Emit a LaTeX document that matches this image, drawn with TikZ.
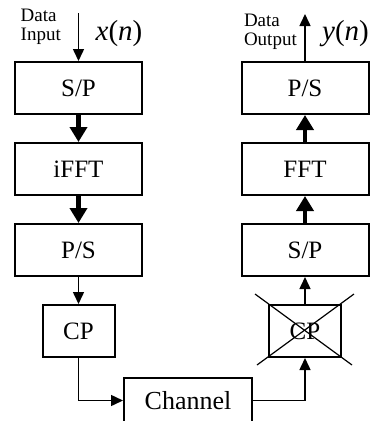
\documentclass[tikz,border=0pt]{standalone}
\usepackage{fontspec}
\setmainfont{Liberation Serif}
\usetikzlibrary{positioning}
\usetikzlibrary{arrows.meta}

\begin{document}
\begin{tikzpicture}[x=1pt,y=1pt,node distance=27pt,
  block/.style={draw,line width=2pt,minimum width=127pt,minimum height=52pt,font=\fontsize{25}{30}\selectfont},
  cpblock/.style={block,minimum width=72pt},
  sigarrow/.style={line width=1.5pt,-{Triangle[length=12pt,width=11pt]}},
  bigarrow/.style={line width=4.5pt,-{Triangle[length=15pt,width=17pt]}},
  lbl/.style={align=left,inner sep=0pt,font=\fontsize{19}{19}\selectfont},
  sig/.style={inner sep=0pt,font=\fontsize{29}{32}\selectfont}]
\useasboundingbox (0,0) rectangle (381,-421);

\node[block]   (sp1) at (78.5,-88)  {S/P};
\node[block]   (ifft) [below=of sp1]  {iFFT};
\node[block]   (ps1)  [below=of ifft] {P/S};
\node[cpblock] (cp1)  [below=of ps1]  {CP};

\node[block]   (ps2) at (305,-88)   {P/S};
\node[block]   (fft) [below=of ps2] {FFT};
\node[block]   (sp2) [below=of fft] {S/P};
\node[cpblock] (cp2) [below=of sp2] {CP};

\node[block,minimum width=128pt,minimum height=45pt,font=\fontsize{26}{30}\selectfont] (chan) at (188,-400.5) {Channel};

\coordinate[above=48pt of sp1] (in);
\coordinate[above=47pt of ps2] (out);

\node[lbl,anchor=north east] (inlbl)  at ([xshift=-17.5pt,yshift=4pt]in)  {Data\\Input};
\node[sig,anchor=west]       (xn)     at ([xshift=17pt,yshift=-20.5pt]in) {\textit{x}(\textit{n})};
\node[lbl,anchor=north east] (outlbl) at ([xshift=-8pt,yshift=0pt]out) {Data\\Output};
\node[sig,anchor=west]       (yn)     at ([xshift=17pt,yshift=-19.5pt]out) {\textit{y}(\textit{n})};

\draw[sigarrow] (in) -- (sp1);
\draw[bigarrow] (sp1) -- (ifft);
\draw[bigarrow] (ifft) -- (ps1);
\draw[sigarrow] (ps1) -- (cp1);
\draw[sigarrow] (cp1) |- (chan);
\draw[sigarrow] (chan) -| (cp2);
\draw[sigarrow] (cp2) -- (sp2);
\draw[bigarrow] (sp2) -- (fft);
\draw[bigarrow] (fft) -- (ps2);
\draw[sigarrow] (ps2) -- (out);

\draw[line width=1.2pt] ([shift={(-13,10)}]cp2.north west) -- ([shift={(10,-7)}]cp2.south east);
\draw[line width=1.2pt] ([shift={(12,10)}]cp2.north east) -- ([shift={(-11,-7)}]cp2.south west);

\end{tikzpicture}
\end{document}
